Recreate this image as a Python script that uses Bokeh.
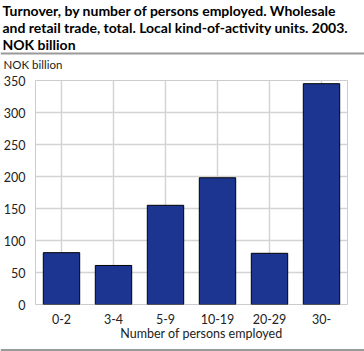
from bokeh.plotting import figure
from bokeh.models import Label, Span, FixedTicker, Range1d
from bokeh.layouts import column
from bokeh.embed import file_html
from bokeh.resources import INLINE

categories = ["0-2", "3-4", "5-9", "10-19", "20-29", "30-"]
turnover = [81, 61, 155, 198, 80, 345]
y_ticks = [0, 50, 100, 150, 200, 250, 300, 350]
title_lines = ["Turnover, by number of persons employed. Wholesale",
               "and retail trade, total. Local kind-of-activity units. 2003.",
               "NOK billion"]
y_unit = "NOK billion"
x_title = "Number of persons employed"

FONT = "Lato"
BAR = "#1b3591"
RULE = "#9a9a9a"
TXT = "#222222"

W = 364
TOP_H = 72
BOT_H = 25
MAIN_H = 351 - TOP_H - BOT_H


def blank(h):
    f = figure(width=W, height=h, output_backend="svg", toolbar_location=None,
               x_range=Range1d(0, W), y_range=Range1d(h, 0),
               x_axis_location=None, y_axis_location=None, frame_align=False,
               min_border=0, min_border_left=0, min_border_right=0,
               min_border_top=0, min_border_bottom=0)
    f.grid.visible = False
    f.outline_line_color = None
    f.background_fill_color = "white"
    f.border_fill_color = "white"
    return f


# header: title, rule, unit label
top = blank(TOP_H)
for i, line in enumerate(title_lines):
    top.add_layout(Label(x=2, y=10 + 17 * i, text=line, text_font=FONT,
                         text_font_size="14px", text_font_style="bold",
                         text_baseline="middle", text_color="#000000"))
top.add_layout(Label(x=3, y=64, text=y_unit, text_font=FONT, text_font_size="11.5px",
                     text_baseline="middle", text_color=TXT))
top.add_layout(Span(location=53, dimension="width", line_color=RULE, line_width=2))

# main chart
p = figure(x_range=categories, width=W, height=MAIN_H, output_backend="svg",
           toolbar_location=None, frame_align=False,
           min_border_left=35, min_border_right=17,
           min_border_top=80 - TOP_H, min_border_bottom=(351 - BOT_H) - 304)
p.y_range = Range1d(0, 350)
p.vbar(x=categories, top=turnover, width=0.7, fill_color=BAR,
       line_color="#000000", line_width=1)

p.outline_line_color = "#cccccc"
p.background_fill_color = "white"
p.border_fill_color = "white"

p.xgrid.grid_line_color = "#d4d4d4"
p.ygrid.grid_line_color = "#d4d4d4"
p.xgrid.grid_line_width = 1.5
p.ygrid.grid_line_width = 1.5
p.yaxis.ticker = FixedTicker(ticks=y_ticks)

for ax in (p.xaxis[0], p.yaxis[0]):
    ax.axis_line_color = None
    ax.major_tick_line_color = None
    ax.minor_tick_line_color = None
    ax.major_label_text_font = FONT
    ax.major_label_text_font_size = "12.5px"
    ax.major_label_text_color = TXT

p.yaxis.major_label_standoff = 4
p.xaxis.major_label_standoff = 3

# footer: x-axis title and rule
bot = blank(BOT_H)
bot.add_layout(Label(x=201, y=333 - (351 - BOT_H), text=x_title, text_font=FONT,
                     text_font_size="12.5px", text_align="center",
                     text_baseline="middle", text_color=TXT))
bot.add_layout(Span(location=BOT_H - 1.5, dimension="width", line_color=RULE, line_width=2))

layout = column(top, p, bot, spacing=0)
open("out.html", "w").write(file_html(layout, INLINE))
